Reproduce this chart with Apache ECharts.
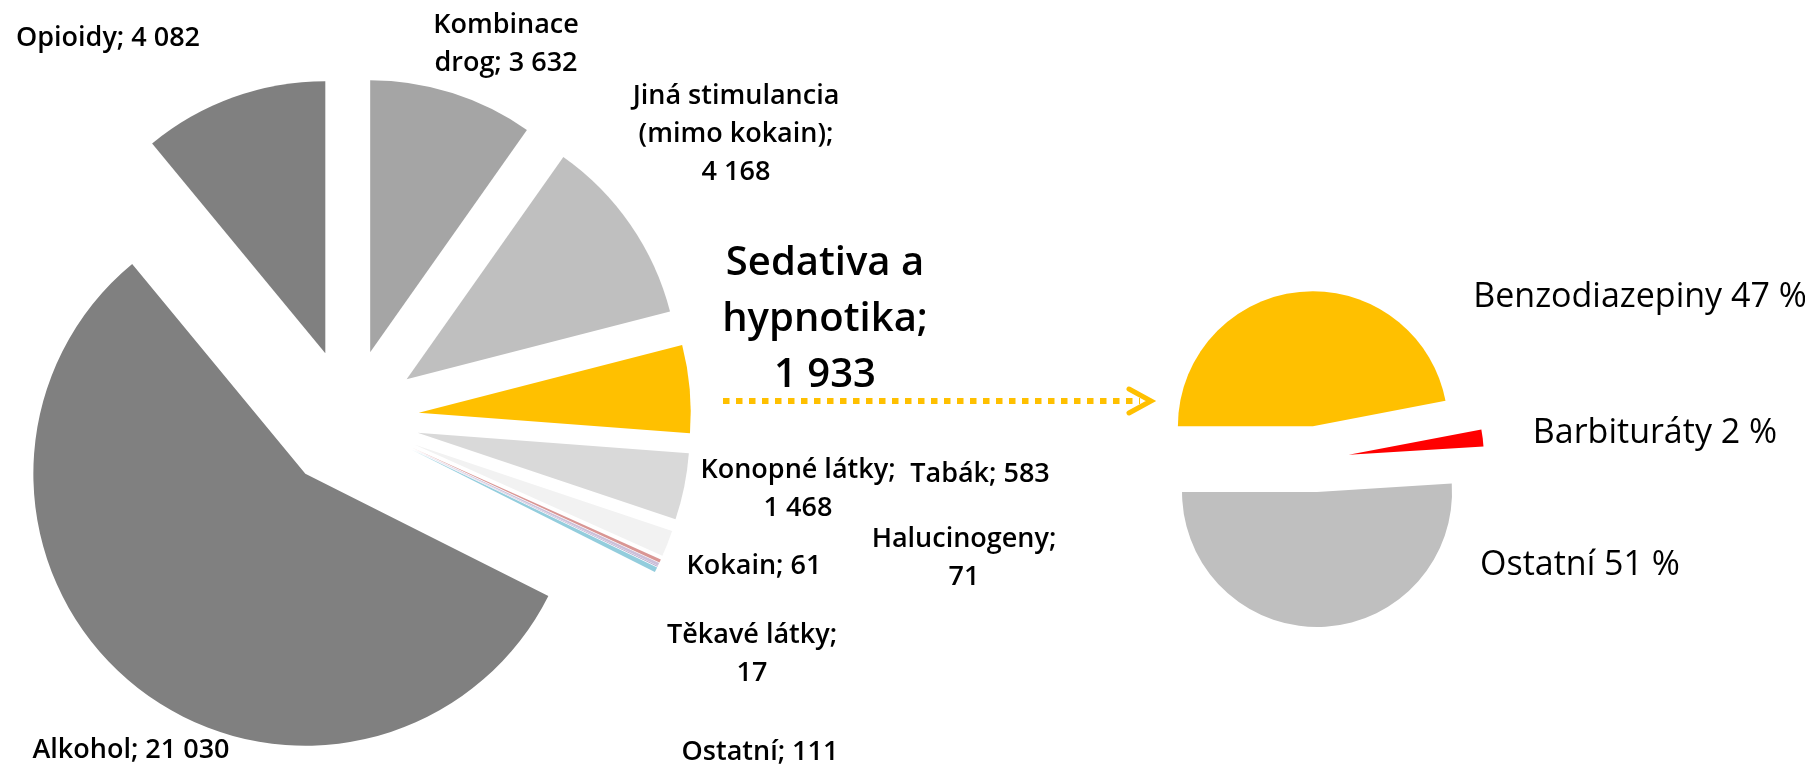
<!DOCTYPE html>
<html>
<head>
<meta charset="utf-8">
<script src="https://cdn.jsdelivr.net/npm/echarts@6/dist/echarts.min.js"></script>
<style>
  html, body { margin: 0; padding: 0; background: #fff; }
  #chart { width: 1805px; height: 766px; }
</style>
</head>
<body>
<div id="chart"></div>
<script>
// main pie - clockwise from 12 o'clock
const drugNames = ['Kombinace drog', 'Jiná stimulancia (mimo kokain)', 'Sedativa a hypnotika', 'Konopné látky',
    'Tabák', 'Halucinogeny', 'Kokain', 'Těkavé látky', 'Ostatní', 'Alkohol', 'Opioidy'];
const drugValues = [3632, 4168, 1933, 1468, 583, 71, 61, 17, 111, 21030, 4082];
const drugColors = ['#a5a5a5', '#bfbfbf', '#ffc000', '#d9d9d9', '#f2f2f2', '#d99694', '#ccc0da', '#b3a2c7', '#93cddd', '#808080', '#808080'];

// breakdown of sedativa a hypnotika
const sedNames = ['Benzodiazepiny', 'Barbituráty', 'Ostatní'];
const sedValues = [47, 2, 51];
const sedColors = ['#ffc000', '#ff0000', '#bfbfbf'];

const FONT = '"Open Sans", "Noto Sans", sans-serif';

// how the labels wrap
const wrapName = {
    'Kombinace drog': 'Kombinace\ndrog',
    'Jiná stimulancia (mimo kokain)': 'Jiná stimulancia\n(mimo kokain)',
    'Sedativa a hypnotika': 'Sedativa a\nhypnotika'
};
const valueOnNewLine = ['Jiná stimulancia (mimo kokain)', 'Sedativa a hypnotika', 'Konopné látky', 'Halucinogeny', 'Těkavé látky'];

// label centres (px)
const mainLabelPos = [[506, 44], [736, 134], [825, 320], [798, 489], [980, 474], [964, 558],
    [754, 566], [752, 654], [760, 752], [131, 750], [108, 38]];
const sedLabelPos = [[1640, 297], [1655, 433], [1580, 565]];

function fmt (v) {
    return String(v).replace(/\B(?=(\d{3})+(?!\d))/g, ' ');
}

let chart = echarts.init(document.getElementById('chart'));

// exploded slices (selected), no labels
function slices (names, values, colors) {
    return names.map((n, i) => ({
        name: n,
        value: values[i],
        selected: true,
        itemStyle: { color: colors[i] }
    }));
}

// same data again, invisible, only carries the labels
function labelItems (names, values) {
    return names.map((n, i) => {
        let item = { name: n, value: values[i] };
        if (n == 'Sedativa a hypnotika') {
            item.label = { fontSize: 40, lineHeight: 56 };
        }
        return item;
    });
}

let mainPie = { center: [349, 419], radius: 272, startAngle: 90 };
let sedPie = { center: [1316, 459], radius: 135, startAngle: 180 };

chart.setOption({
    animation: false,
    backgroundColor: '#fff',
    series: [
        {
            type: 'pie',
            center: mainPie.center,
            radius: mainPie.radius,
            startAngle: mainPie.startAngle,
            clockwise: true,
            selectedMode: 'multiple',
            selectedOffset: 70,
            silent: true,
            emphasis: { disabled: true },
            select: { itemStyle: { borderWidth: 0 } },
            label: { show: false },
            labelLine: { show: false },
            data: slices(drugNames, drugValues, drugColors)
        },
        {
            type: 'pie',
            center: mainPie.center,
            radius: mainPie.radius,
            startAngle: mainPie.startAngle,
            clockwise: true,
            silent: true,
            avoidLabelOverlap: false,
            emphasis: { disabled: true },
            itemStyle: { color: 'rgba(0,0,0,0)', borderWidth: 0 },
            label: {
                show: true,
                position: 'outside',
                color: '#000',
                fontFamily: FONT,
                fontWeight: 600,
                fontSize: 27,
                lineHeight: 38,
                align: 'center',
                formatter: (p) => {
                    let nm = wrapName[p.name] || p.name;
                    let sep = valueOnNewLine.indexOf(p.name) >= 0 ? ';\n' : '; ';
                    return nm + sep + fmt(p.value);
                }
            },
            labelLine: { show: false },
            labelLayout: (p) => ({
                x: mainLabelPos[p.dataIndex][0],
                y: mainLabelPos[p.dataIndex][1],
                align: 'center',
                verticalAlign: 'middle'
            }),
            data: labelItems(drugNames, drugValues)
        },
        {
            type: 'pie',
            center: sedPie.center,
            radius: sedPie.radius,
            startAngle: sedPie.startAngle,
            clockwise: true,
            selectedMode: 'multiple',
            selectedOffset: 33,
            silent: true,
            emphasis: { disabled: true },
            select: { itemStyle: { borderWidth: 0 } },
            label: { show: false },
            labelLine: { show: false },
            data: slices(sedNames, sedValues, sedColors)
        },
        {
            type: 'pie',
            center: sedPie.center,
            radius: sedPie.radius,
            startAngle: sedPie.startAngle,
            clockwise: true,
            silent: true,
            avoidLabelOverlap: false,
            emphasis: { disabled: true },
            itemStyle: { color: 'rgba(0,0,0,0)', borderWidth: 0 },
            label: {
                show: true,
                position: 'outside',
                color: '#000',
                fontFamily: FONT,
                fontWeight: 400,
                fontSize: 34,
                formatter: (p) => p.name + ' ' + p.value + ' %'
            },
            labelLine: { show: false },
            labelLayout: (p) => ({
                x: sedLabelPos[p.dataIndex][0],
                y: sedLabelPos[p.dataIndex][1],
                align: 'center',
                verticalAlign: 'middle'
            }),
            data: labelItems(sedNames, sedValues)
        }
    ],
    graphic: [
        {
            type: 'line',
            shape: { x1: 723, y1: 401, x2: 1140, y2: 401 },
            style: { stroke: '#ffc000', lineWidth: 6, lineDash: [6.5, 6.5] },
            silent: true
        },
        {
            type: 'polyline',
            shape: { points: [[1129, 389], [1151, 401], [1129, 413]] },
            style: { stroke: '#ffc000', lineWidth: 5, lineCap: 'round', lineJoin: 'miter', fill: null },
            silent: true
        }
    ]
});
</script>
</body>
</html>
